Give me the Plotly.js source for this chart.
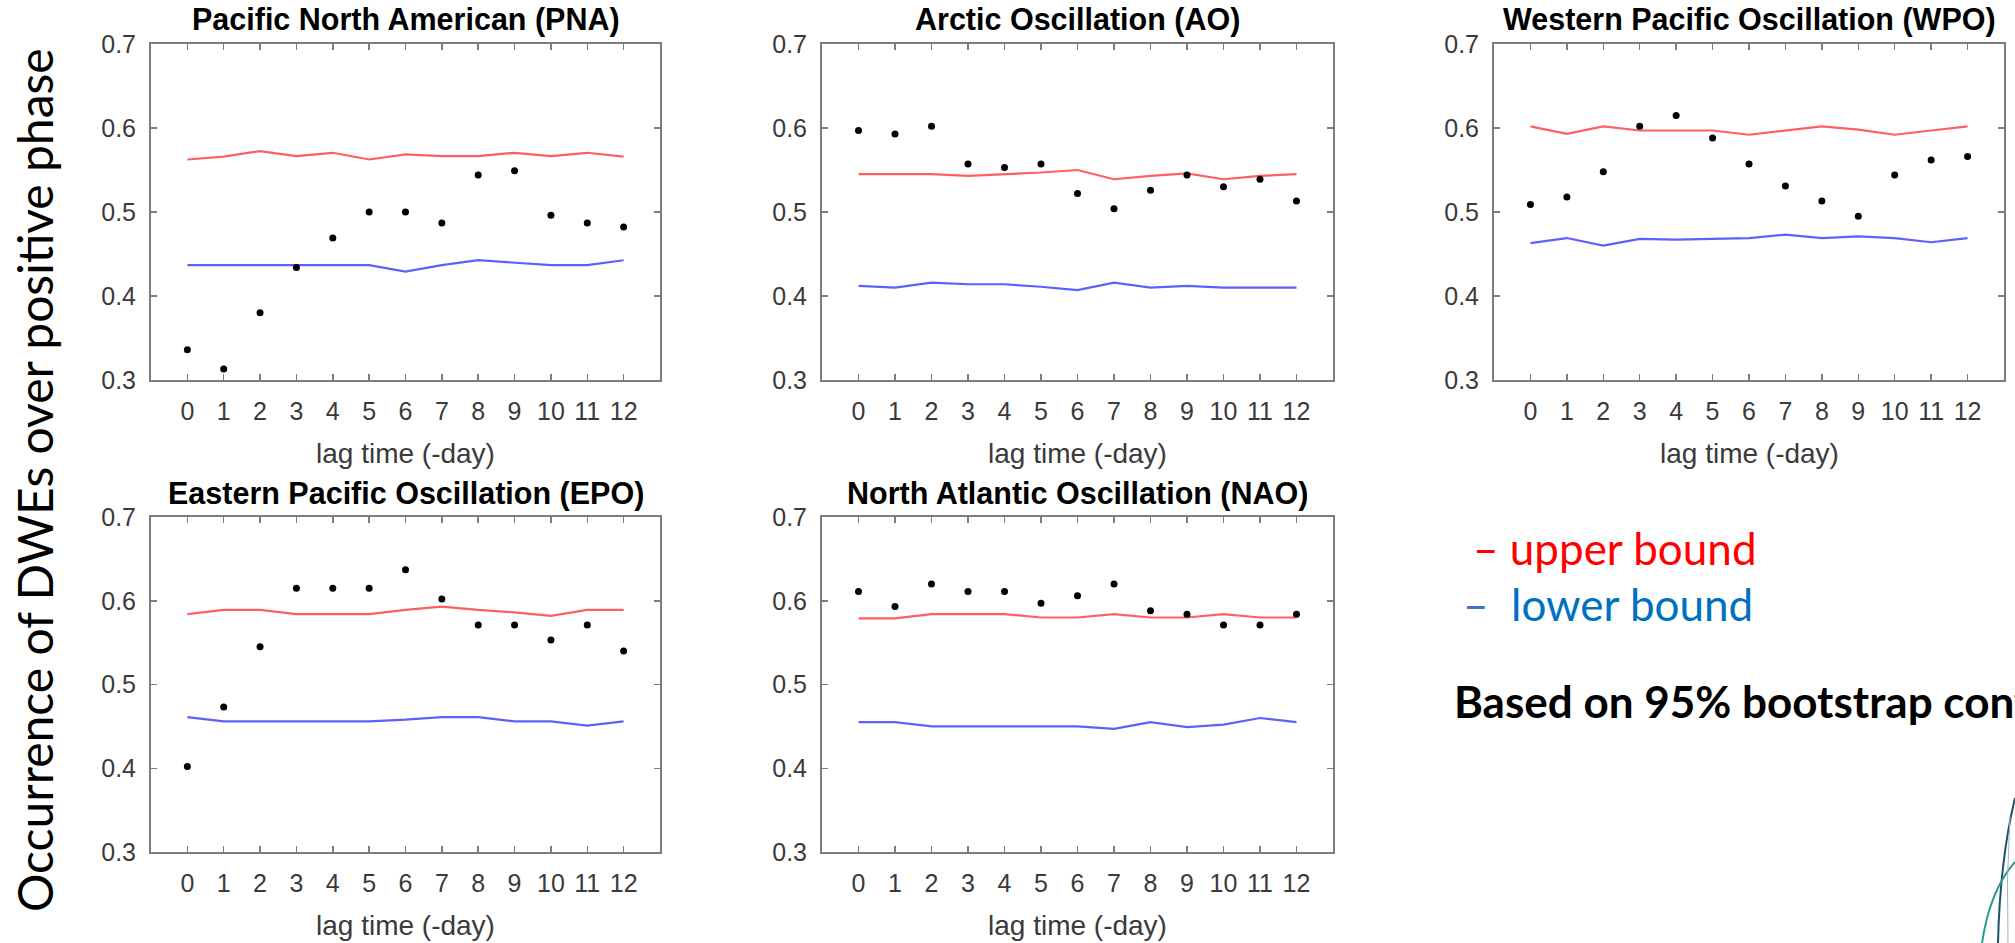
<!DOCTYPE html>
<html>
<head>
<meta charset="utf-8">
<script src="https://cdn.plot.ly/plotly-3.0.1.min.js"></script>
<style>
  html, body { margin: 0; padding: 0; background: #ffffff; }
  #chart { width: 2015px; height: 943px; }
</style>
</head>
<body>
<div id="chart"></div>
<script>
// Lag (days before the event) shared by every panel
const lags = [0, 1, 2, 3, 4, 5, 6, 7, 8, 9, 10, 11, 12];
const lagTickLabels = ['0', '1', '2', '3', '4', '5', '6', '7', '8', '9', '10', '11', '12'];
const occurrenceTicks = [0.3, 0.4, 0.5, 0.6, 0.7];

// Pacific North American (PNA)
const pnaObserved = [0.336, 0.313, 0.380, 0.434, 0.469, 0.500, 0.500, 0.487, 0.544, 0.549, 0.496, 0.487, 0.482];
const pnaUpper    = [0.5625, 0.566, 0.5725, 0.5665, 0.5705, 0.5625, 0.5685, 0.5665, 0.5665, 0.5705, 0.5665, 0.5705, 0.566];
const pnaLower    = [0.4367, 0.4367, 0.4367, 0.4367, 0.4367, 0.4367, 0.429, 0.4367, 0.4426, 0.440, 0.4367, 0.4367, 0.4426];

// Arctic Oscillation (AO)
const aoObserved = [0.597, 0.593, 0.602, 0.557, 0.553, 0.557, 0.522, 0.504, 0.526, 0.544, 0.530, 0.539, 0.513];
const aoUpper    = [0.545, 0.545, 0.545, 0.543, 0.545, 0.547, 0.550, 0.539, 0.543, 0.546, 0.539, 0.543, 0.545];
const aoLower    = [0.412, 0.410, 0.416, 0.414, 0.414, 0.411, 0.407, 0.416, 0.410, 0.412, 0.410, 0.410, 0.410];

// Western Pacific Oscillation (WPO)
const wpoObserved = [0.509, 0.518, 0.548, 0.602, 0.615, 0.588, 0.557, 0.531, 0.513, 0.495, 0.544, 0.562, 0.566];
const wpoUpper    = [0.602, 0.593, 0.602, 0.597, 0.597, 0.597, 0.592, 0.597, 0.602, 0.598, 0.592, 0.597, 0.602];
const wpoLower    = [0.463, 0.469, 0.460, 0.468, 0.467, 0.468, 0.469, 0.473, 0.469, 0.471, 0.469, 0.464, 0.469];

// Eastern Pacific Oscillation (EPO)
const epoObserved = [0.402, 0.473, 0.545, 0.615, 0.615, 0.615, 0.637, 0.602, 0.571, 0.571, 0.553, 0.571, 0.540];
const epoUpper    = [0.584, 0.589, 0.589, 0.584, 0.584, 0.584, 0.589, 0.593, 0.589, 0.586, 0.582, 0.589, 0.589];
const epoLower    = [0.461, 0.456, 0.456, 0.456, 0.456, 0.456, 0.458, 0.461, 0.461, 0.456, 0.456, 0.451, 0.456];

// North Atlantic Oscillation (NAO)
const naoObserved = [0.611, 0.593, 0.620, 0.611, 0.611, 0.597, 0.606, 0.620, 0.588, 0.584, 0.571, 0.571, 0.584];
const naoUpper    = [0.579, 0.579, 0.584, 0.584, 0.584, 0.580, 0.580, 0.584, 0.580, 0.580, 0.584, 0.580, 0.580];
const naoLower    = [0.455, 0.455, 0.450, 0.450, 0.450, 0.450, 0.450, 0.447, 0.455, 0.449, 0.452, 0.460, 0.455];

const panelTitles = [
  'Pacific North American (PNA)',
  'Arctic Oscillation (AO)',
  'Western Pacific Oscillation (WPO)',
  'Eastern Pacific Oscillation (EPO)',
  'North Atlantic Oscillation (NAO)'
];
const xAxisLabel = 'lag time (-day)';
const yAxisLabel = 'Occurrence of DWEs over positive phase';
const upperLabel = 'upper bound';
const lowerLabel = 'lower bound';
const noteText = 'Based on 95% bootstrap confidence interval';

// ---- page geometry (pixels) ----
const W = 2015, H = 943;
const px = v => v / W;
const py = v => 1 - v / H;

const columns = [[151, 660], [822, 1333], [1494, 2004]];
const rows = [[44, 380], [517, 852]];
const panelSlots = [[0, 0], [0, 1], [0, 2], [1, 0], [1, 1]];

const panelSeries = [
  [pnaObserved, pnaUpper, pnaLower],
  [aoObserved, aoUpper, aoLower],
  [wpoObserved, wpoUpper, wpoLower],
  [epoObserved, epoUpper, epoLower],
  [naoObserved, naoUpper, naoLower]
];

const tickFont = { family: 'Liberation Sans, Arial, sans-serif', size: 25, color: '#3a3a3a' };
const frameColor = '#7d7d7d';

const data = [];
const layout = {
  width: W, height: H,
  margin: { l: 0, r: 0, t: 0, b: 0, pad: 0 },
  paper_bgcolor: '#ffffff',
  plot_bgcolor: '#ffffff',
  showlegend: false,
  annotations: [],
  shapes: []
};

panelSeries.forEach((series, i) => {
  const [obs, upper, lower] = series;
  const [r, c] = panelSlots[i];
  const xs = columns[c], ys = rows[r];
  const n = i === 0 ? '' : String(i + 1);
  const xa = 'x' + n, ya = 'y' + n;

  data.push({ x: lags, y: upper, xaxis: xa, yaxis: ya, type: 'scatter', mode: 'lines',
              line: { color: 'rgb(255,95,95)', width: 2.2 }, hoverinfo: 'skip' });
  data.push({ x: lags, y: lower, xaxis: xa, yaxis: ya, type: 'scatter', mode: 'lines',
              line: { color: 'rgb(95,95,255)', width: 2.2 }, hoverinfo: 'skip' });
  data.push({ x: lags, y: obs, xaxis: xa, yaxis: ya, type: 'scatter', mode: 'markers',
              marker: { color: '#000000', size: 7 }, hoverinfo: 'skip' });

  layout['xaxis' + n] = {
    domain: [px(xs[0]), px(xs[1])], anchor: ya,
    range: [-1, 13], tickmode: 'array', tickvals: lags, ticktext: lagTickLabels,
    ticks: 'inside', ticklen: 6, tickwidth: 1.5, tickcolor: frameColor,
    showline: true, linecolor: frameColor, linewidth: 2, mirror: 'ticks',
    showgrid: false, zeroline: false, tickfont: tickFont, ticklabelstandoff: 8,
    fixedrange: true
  };
  layout['yaxis' + n] = {
    domain: [py(ys[1]), py(ys[0])], anchor: xa,
    range: [0.3, 0.7], tickmode: 'array', tickvals: occurrenceTicks,
    ticktext: occurrenceTicks.map(v => v.toFixed(1)),
    ticks: 'inside', ticklen: 6, tickwidth: 1.5, tickcolor: frameColor,
    showline: true, linecolor: frameColor, linewidth: 2, mirror: 'ticks',
    showgrid: false, zeroline: false, tickfont: tickFont, ticklabelstandoff: 8,
    fixedrange: true
  };

  const cx = px((xs[0] + xs[1]) / 2);
  layout.annotations.push({
    text: '<b>' + panelTitles[i] + '</b>', xref: 'paper', yref: 'paper',
    x: cx, y: py(ys[0] - 24), xanchor: 'center', yanchor: 'middle', showarrow: false,
    font: { family: 'Liberation Sans, Arial, sans-serif', size: 30.5, color: '#000000' }
  });
  layout.annotations.push({
    text: xAxisLabel, xref: 'paper', yref: 'paper',
    x: cx, y: py(ys[1] + 73), xanchor: 'center', yanchor: 'middle', showarrow: false,
    font: { family: 'Liberation Sans, Arial, sans-serif', size: 28, color: '#3a3a3a' }
  });
});

// shared y label
layout.annotations.push({
  text: yAxisLabel, xref: 'paper', yref: 'paper', textangle: -90,
  x: px(35), y: py(480), xanchor: 'center', yanchor: 'middle', showarrow: false,
  font: { family: 'Lato, Noto Sans, sans-serif', size: 48, color: '#000000' }
});

// bound key
layout.annotations.push({
  text: '<span style="color:#ff0000">\u2013 ' + upperLabel + '</span>',
  xref: 'paper', yref: 'paper', x: px(1471), y: py(548), xanchor: 'left', yanchor: 'middle',
  showarrow: false, font: { family: 'Lato, Noto Sans, sans-serif', size: 44, color: '#ff0000' }
});
layout.annotations.push({
  text: '<span style="color:#4472c4">\u2013</span><span style="color:#0070c0">  ' + lowerLabel + '</span>',
  xref: 'paper', yref: 'paper', x: px(1461), y: py(604), xanchor: 'left', yanchor: 'middle',
  showarrow: false, font: { family: 'Lato, Noto Sans, sans-serif', size: 44, color: '#0070c0' }
});
layout.annotations.push({
  text: '<b>' + noteText + '</b>',
  xref: 'paper', yref: 'paper', x: px(1452), y: py(701), xanchor: 'left', yanchor: 'middle',
  showarrow: false, font: { family: 'Lato, Noto Sans, sans-serif', size: 44, color: '#000000' }
});

// corner emblem strokes
const curve = (pts) => 'M ' + px(pts[0][0]) + ',' + py(pts[0][1]) +
  ' Q ' + px(pts[1][0]) + ',' + py(pts[1][1]) + ' ' + px(pts[2][0]) + ',' + py(pts[2][1]);
layout.shapes.push(
  { type: 'path', xref: 'paper', yref: 'paper', path: curve([[2015, 798], [2000, 860], [1998, 943]]),
    line: { color: '#1f4e6e', width: 2 } },
  { type: 'path', xref: 'paper', yref: 'paper', path: curve([[2015, 862], [1990, 890], [1982, 943]]),
    line: { color: '#2e9c8c', width: 2 } },
  { type: 'path', xref: 'paper', yref: 'paper', path: curve([[2010, 815], [2006, 880], [2008, 943]]),
    line: { color: '#9bb5c0', width: 1 } }
);

Plotly.newPlot('chart', data, layout, { staticPlot: true, displayModeBar: false });
</script>
</body>
</html>
